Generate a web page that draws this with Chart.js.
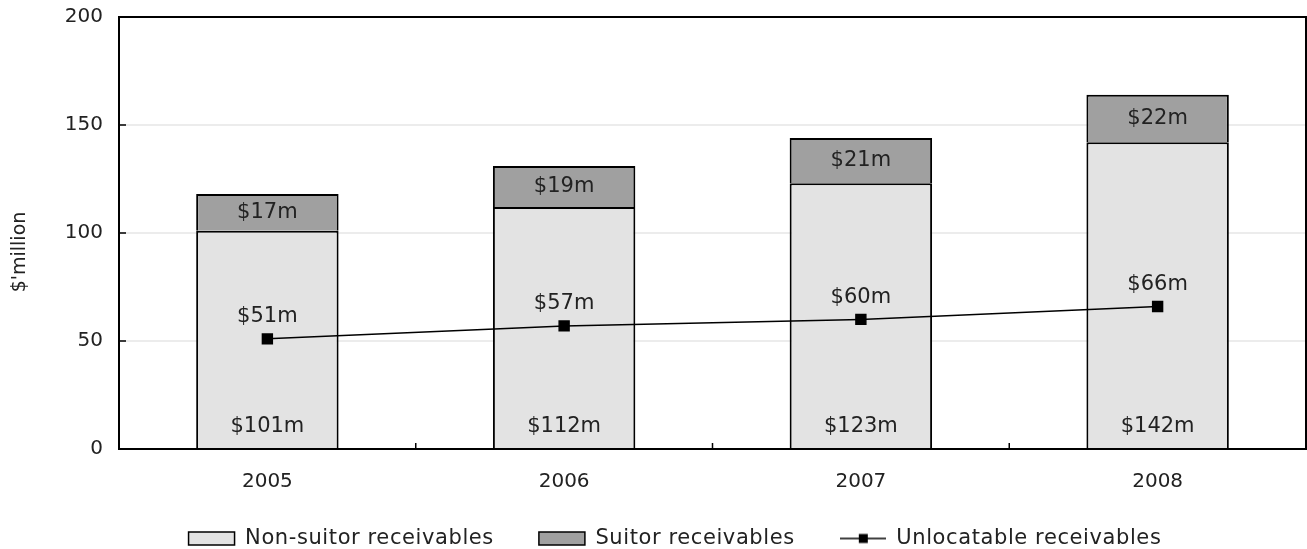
<!DOCTYPE html>
<html>
<head>
<meta charset="utf-8">
<script src="https://cdn.jsdelivr.net/npm/chart.js@4"></script>
<style>
  html, body { margin: 0; padding: 0; background: #fff; }
  #wrap { width: 1307px; height: 549px; }
</style>
</head>
<body>
<div id="wrap"><canvas id="myChart" width="1307" height="549"></canvas></div>
<script>
const years = ["2005", "2006", "2007", "2008"];
const nonSuitor = [101, 112, 123, 142];
const suitor = [17, 19, 21, 22];
const unlocatable = [51, 57, 60, 66];
const yTicks = [0, 50, 100, 150, 200];

const FONT = "'DejaVu Sans', Verdana, sans-serif";
const TEXT = "#222";

// legend marker for the line series: line through a black square
function lineMarker() {
    const c = document.createElement("canvas");
    c.width = 46; c.height = 14;
    const g = c.getContext("2d");
    g.strokeStyle = "#000"; g.lineWidth = 1.5;
    g.beginPath(); g.moveTo(0, 7); g.lineTo(46, 7); g.stroke();
    g.fillStyle = "#000"; g.fillRect(19, 2.5, 9, 9);
    return c;
}

// a bit of letter spacing + fixed height for the legend
const legendTweak = {
    id: "legendTweak",
    beforeLayout(chart) {
        const lg = chart.legend;
        if (!lg || lg._tweaked) return;
        lg._tweaked = true;
        const fit = lg.fit, draw = lg.draw;
        lg.fit = function() {
            this.ctx.letterSpacing = "0.6px";
            fit.call(this);
            this.ctx.letterSpacing = "0px";
            this.height = 61;
        };
        lg.draw = function() {
            const top = this.top;
            this.top = top - 5;
            this.ctx.save();
            this.ctx.letterSpacing = "0.6px";
            this.ctx.translate(22, 0);
            draw.call(this);
            this.ctx.restore();
            this.ctx.letterSpacing = "0px";
            this.top = top;
        };
    }
};

// frame, inner ticks, axis title and value labels
const decor = {
    id: "decor",
    afterDatasetsDraw(chart) {
        const ctx = chart.ctx;
        const a = chart.chartArea;
        const x = chart.scales.x, y = chart.scales.y;
        ctx.save();
        ctx.letterSpacing = "0px";
        ctx.strokeStyle = "#000";
        ctx.lineWidth = 2;
        ctx.strokeRect(a.left, a.top, a.right - a.left, a.bottom - a.top);
        ctx.lineWidth = 1.5;
        ctx.beginPath();
        yTicks.forEach(v => {
            const py = y.getPixelForValue(v);
            ctx.moveTo(a.left, py); ctx.lineTo(a.left + 7, py);
        });
        for (let i = 1; i < years.length; i++) {
            const px = (x.getPixelForValue(i - 1) + x.getPixelForValue(i)) / 2;
            ctx.moveTo(px, a.bottom); ctx.lineTo(px, a.bottom - 6);
        }
        ctx.stroke();

        ctx.font = "21px " + FONT;
        ctx.fillStyle = TEXT;
        ctx.textAlign = "center";
        ctx.textBaseline = "middle";
        const m0 = chart.getDatasetMeta(0), m1 = chart.getDatasetMeta(1), m2 = chart.getDatasetMeta(2);
        m0.data.forEach((el, i) => {
            ctx.fillText("$" + nonSuitor[i] + "m", el.x, el.base - 21);
        });
        m1.data.forEach((el, i) => {
            ctx.fillText("$" + suitor[i] + "m", el.x, (el.y + el.base) / 2);
        });
        m2.data.forEach((el, i) => {
            ctx.fillText("$" + unlocatable[i] + "m", el.x, el.y - 22);
        });

        // y axis title
        ctx.font = "19px " + FONT;
        ctx.translate(20, 252);
        ctx.rotate(-Math.PI / 2);
        ctx.fillText("$'million", 0, 0);
        ctx.restore();
    }
};

function noPad(s) {
    s.paddingTop = 0; s.paddingBottom = 0;
    s.paddingLeft = 0; s.paddingRight = 0;
}

window.onload = function() {
    const ctx = document.getElementById("myChart").getContext("2d");
    new Chart(ctx, {
        data: {
            labels: years,
            datasets: [
                {
                    type: "bar",
                    label: "Non-suitor receivables",
                    data: nonSuitor,
                    backgroundColor: "#e3e3e3",
                    borderColor: "#000",
                    borderWidth: 2,
                    stack: "s",
                    order: 2,
                },
                {
                    type: "bar",
                    label: "Suitor receivables",
                    data: suitor,
                    backgroundColor: "#a0a0a0",
                    borderColor: "#000",
                    borderWidth: 2,
                    stack: "s",
                    order: 2,
                },
                {
                    type: "line",
                    label: "Unlocatable receivables",
                    data: unlocatable,
                    borderColor: "#000",
                    borderWidth: 1.5,
                    pointStyle: "rect",
                    pointRadius: 7,
                    pointBackgroundColor: "#000",
                    pointBorderColor: "#000",
                    order: 1,
                },
            ],
        },
        options: {
            responsive: false,
            animation: false,
            devicePixelRatio: 1,
            layout: { autoPadding: false, padding: { top: 17, right: 1, left: 0, bottom: 0 } },
            datasets: { bar: { barPercentage: 0.48, categoryPercentage: 1 } },
            scales: {
                x: {
                    stacked: true,
                    grid: { display: false, drawTicks: false },
                    border: { display: false },
                    ticks: { padding: 21, color: TEXT, font: { family: FONT, size: 20 } },
                    afterFit: (s) => { s.height = 39; noPad(s); },
                },
                y: {
                    stacked: true,
                    min: 0, max: 200,
                    afterBuildTicks: (s) => { s.ticks = yTicks.map(v => ({ value: v })); },
                    grid: { color: "#ececec", lineWidth: 2, drawTicks: false },
                    border: { display: false },
                    ticks: { padding: 16, color: TEXT, font: { family: FONT, size: 20 } },
                    afterFit: (s) => { s.width = 119; noPad(s); },
                },
            },
            plugins: {
                tooltip: { enabled: false },
                legend: {
                    position: "bottom",
                    labels: {
                        color: TEXT,
                        font: { family: FONT, size: 21 },
                        usePointStyle: true,
                        pointStyleWidth: 46,
                        boxHeight: 13,
                        padding: 45,
                        generateLabels: (chart) => chart.data.datasets.map((d, i) => ({
                            text: d.label,
                            fillStyle: d.backgroundColor || "#000",
                            strokeStyle: "#000",
                            lineWidth: 1.5,
                            pointStyle: d.type === "line" ? lineMarker() : "rect",
                            datasetIndex: i,
                            fontColor: TEXT,
                        })),
                    },
                },
            },
        },
        plugins: [legendTweak, decor],
    });
};
</script>
</body>
</html>
